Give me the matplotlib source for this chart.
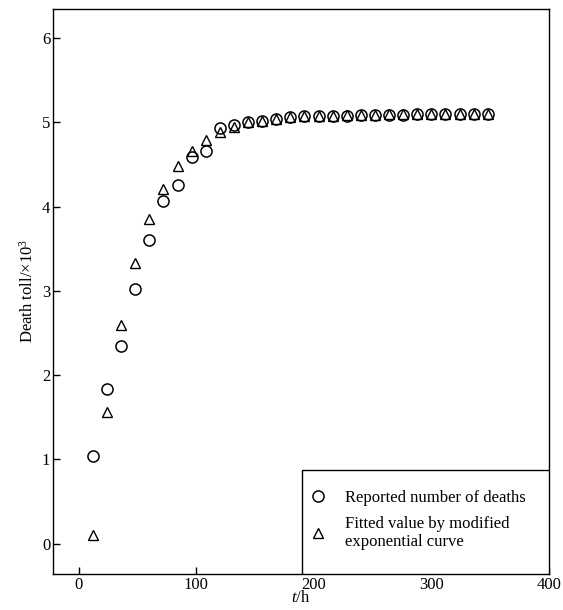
import numpy as np
import matplotlib
matplotlib.use('Agg')
import matplotlib.pyplot as plt
from matplotlib.patches import Rectangle

plt.rcParams['font.family'] = ['Liberation Serif', 'DejaVu Serif']
plt.rcParams['mathtext.fontset'] = 'custom'
plt.rcParams['mathtext.rm'] = 'Liberation Serif'
plt.rcParams['mathtext.it'] = 'Liberation Serif:italic'

# time in hours
t = [12, 24, 36, 48, 60, 72, 84, 96, 108, 120, 132, 144, 156, 168, 180, 192,
     204, 216, 228, 240, 252, 264, 276, 288, 300, 312, 324, 336, 348]

# reported deaths (x10^3)
reported = [1.04, 1.83, 2.35, 3.02, 3.60, 4.07, 4.26, 4.59, 4.66, 4.93, 4.97,
            5.00, 5.02, 5.04, 5.06, 5.07, 5.07, 5.08, 5.08, 5.09, 5.09, 5.09,
            5.09, 5.10, 5.10, 5.10, 5.10, 5.10, 5.10]

# fitted by modified exponential curve
fitted = [0.10, 1.56, 2.59, 3.33, 3.85, 4.21, 4.48, 4.66, 4.79, 4.88, 4.95,
          5.00, 5.02, 5.04, 5.06, 5.07, 5.08, 5.08, 5.09, 5.09, 5.09, 5.10,
          5.10, 5.10, 5.10, 5.10, 5.10, 5.10, 5.10]

fig = plt.figure(figsize=(5.63, 6.10), dpi=100)
ax = fig.add_axes([0.094, 0.059, 0.881, 0.927])

ax.plot(t, reported, linestyle='none', marker='o', markersize=8,
        markerfacecolor='none', markeredgecolor='black', markeredgewidth=1.1,
        label='Reported number of deaths')
ax.plot(t, fitted, linestyle='none', marker='^', markersize=6.5,
        markerfacecolor='none', markeredgecolor='black', markeredgewidth=1.0,
        label='Fitted value by modified\nexponential curve')

ax.set_xlim(-22, 400)
ax.set_ylim(-0.36, 6.35)
ax.set_xticks([0, 100, 200, 300, 400])
ax.set_yticks([0, 1, 2, 3, 4, 5, 6])
ax.tick_params(direction='in', length=5, width=1, labelsize=12, pad=2)
for s in ax.spines.values():
    s.set_linewidth(1)

ax.set_xlabel('$t$/h', fontsize=12, labelpad=-2)
ax.set_ylabel('Death toll/×10$^3$', fontsize=12, labelpad=4)

# legend box drawn separately so it sits flush with the spines
ax.add_patch(Rectangle((0.502, 0), 0.498, 0.184, transform=ax.transAxes,
                       facecolor='white', edgecolor='black', linewidth=1,
                       zorder=3))
leg = ax.legend(loc='center left', bbox_to_anchor=(0.484, 0.096),
                frameon=False, fontsize=12, borderpad=0.5,
                handletextpad=1.1, labelspacing=0.6, handlelength=1.0)
leg.set_zorder(4)

fig.savefig('out.png', dpi=100)
